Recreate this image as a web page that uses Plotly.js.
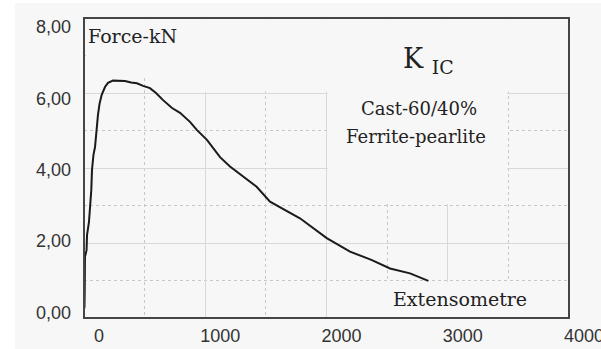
<!DOCTYPE html>
<html><head><meta charset="utf-8">
<script src="https://cdn.plot.ly/plotly-3.0.1.min.js"></script>
<style>
html,body{margin:0;padding:0;background:#ffffff;overflow:hidden;width:601px;height:349px}
#chart{position:absolute;left:15px;top:3px;width:586px;height:346px}
</style>
</head><body><div id="chart"></div>
<script>
// Extensometer reading (x) vs force in kN (y)
const extension = [0, 4, 6, 8, 21, 25, 41, 49, 60, 66, 78, 91, 103, 115, 128, 146, 173, 198, 239, 289, 338, 388, 437, 487, 544, 594, 652, 726, 792, 874, 932, 1014, 1122, 1204, 1424, 1534, 1644, 1781, 2002, 2194, 2370, 2524, 2689, 2840];
const forceKN   = [0.25, 0.29, 0.75, 1.63, 1.81, 2.21, 2.56, 2.88, 3.41, 3.95, 4.35, 4.56, 5.01, 5.41, 5.71, 5.95, 6.16, 6.27, 6.33, 6.33, 6.32, 6.28, 6.26, 6.19, 6.13, 6.00, 5.81, 5.60, 5.47, 5.23, 5.01, 4.75, 4.29, 4.04, 3.50, 3.10, 2.91, 2.66, 2.13, 1.77, 1.55, 1.32, 1.19, 0.99];

const xStep = 1000;
const yStep = 2;

const yLabel = 'Force-kN';
const xLabel = 'Extensometre';
const titleMain = 'K <sub>IC</sub>';
const subtitle1 = 'Cast-60/40%';
const subtitle2 = 'Ferrite-pearlite';

const bg = '#f7f7f7';
const frameColor = '#454545';
const serif = 'DejaVu Serif, serif';
const sans = 'Liberation Sans, Arial, sans-serif';

const trace = {
  x: extension, y: forceKN, type: 'scatter', mode: 'lines',
  line: {color: '#1a1a1a', width: 2}, hoverinfo: 'skip', showlegend: false
};
// empty trace so that the label-only overlay axis is drawn
const labelAxisTrace = {x: [], y: [], yaxis: 'y2', type: 'scatter', mode: 'lines', hoverinfo: 'skip', showlegend: false};

// background patches hiding grid where the reference has none
const mask = (xref, x0, x1, y0, y1) => ({type: 'rect', layer: 'above', xref: xref, yref: 'y', x0: x0, x1: x1, y0: y0, y1: y1, line: {width: 0}, fillcolor: bg});

const layout = {
  width: 586, height: 346,
  margin: {l: 69, r: 32, t: 14.5, b: 31},
  paper_bgcolor: bg, plot_bgcolor: bg,
  separators: ', ',
  showlegend: false,
  xaxis: {
    range: [0, 4000], tickmode: 'linear', tick0: 0, dtick: xStep, tickformat: 'd',
    showgrid: true, gridcolor: '#d9d9d9', gridwidth: 1,
    minor: {tickmode: 'linear', dtick: xStep / 2, showgrid: true, gridcolor: '#c8c8c8', griddash: 'dot', gridwidth: 1},
    showline: false,
    ticks: '', zeroline: false, ticklabelshift: 15, ticklabelstandoff: 5, ticklabeloverflow: 'allow',
    tickfont: {family: sans, size: 18, color: '#333333'}, fixedrange: true
  },
  yaxis: {
    range: [0, 8], tickmode: 'linear', tick0: 0, dtick: yStep,
    showticklabels: false,
    showgrid: true, gridcolor: '#d9d9d9', gridwidth: 1,
    minor: {tickmode: 'linear', dtick: yStep / 2, showgrid: true, gridcolor: '#c8c8c8', griddash: 'dot', gridwidth: 1},
    showline: false,
    ticks: '', zeroline: false, fixedrange: true
  },
  yaxis2: {
    overlaying: 'y', side: 'left', range: [-0.154, 8.252],
    tickmode: 'linear', tick0: 0, dtick: yStep, tickformat: '.2f',
    showgrid: false, showline: false, zeroline: false, ticks: '', ticklabelstandoff: 12,
    tickfont: {family: sans, size: 18, color: '#333333'}, fixedrange: true
  },
  shapes: [
    mask('paper', 0.004, 0.996, 6.45, 7.97),
    mask('x', 660, 3995, 6.04, 6.5),
    mask('x', 2010, 3490, 3.04, 6.1),
    mask('x', 2300, 3995, 0.03, 0.96),
    {type: 'rect', layer: 'above', xref: 'paper', yref: 'paper', x0: 0, x1: 1, y0: 0, y1: 1, line: {color: frameColor, width: 2}, fillcolor: 'rgba(0,0,0,0)'}
  ],
  annotations: [
    {text: yLabel, xref: 'paper', yref: 'paper', x: 0.004, y: 0.94, xanchor: 'left', yanchor: 'middle', showarrow: false, font: {family: serif, size: 19, color: '#222'}},
    {text: titleMain, xref: 'paper', yref: 'paper', x: 0.71, y: 0.86, xanchor: 'center', yanchor: 'middle', showarrow: false, font: {family: serif, size: 27, color: '#222'}},
    {text: subtitle1, xref: 'paper', yref: 'paper', x: 0.69, y: 0.70, xanchor: 'center', yanchor: 'middle', showarrow: false, font: {family: serif, size: 18, color: '#222'}},
    {text: subtitle2, xref: 'paper', yref: 'paper', x: 0.685, y: 0.605, xanchor: 'center', yanchor: 'middle', showarrow: false, font: {family: serif, size: 18, color: '#222'}},
    {text: xLabel, xref: 'paper', yref: 'paper', x: 0.775, y: 0.065, xanchor: 'center', yanchor: 'middle', showarrow: false, font: {family: serif, size: 19, color: '#222'}}
  ]
};

Plotly.newPlot('chart', [trace, labelAxisTrace], layout, {displayModeBar: false, staticPlot: true});
</script>
</body></html>
